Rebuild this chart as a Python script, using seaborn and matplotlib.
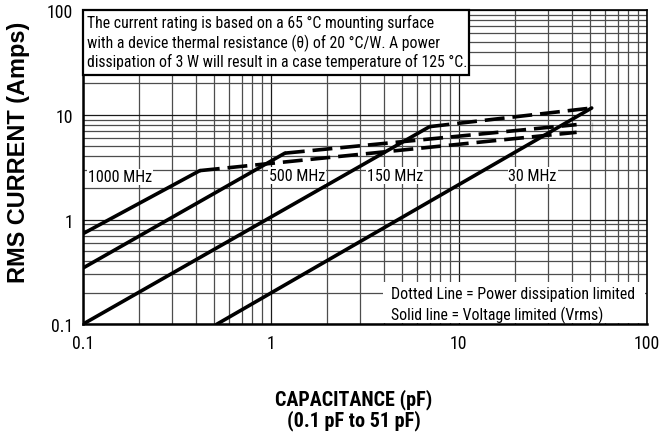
import pandas as pd
import seaborn as sns
import matplotlib.pyplot as plt
from matplotlib import font_manager
from matplotlib.patches import Rectangle

# values (capacitance in pF, current in A)
freq_labels = ["1000 MHz", "500 MHz", "150 MHz", "30 MHz"]
solid_cap = [[0.1, 0.42], [0.1, 1.19], [0.1, 7.0], [0.516, 51.0]]
solid_amp = [[0.73, 2.93], [0.343, 4.3], [0.1, 7.7], [0.1, 11.6]]
dash_cap = [[0.42, 42.4], [1.19, 42.4], [7.0, 51.0], []]
dash_amp = [[2.93, 6.8], [4.3, 8.05], [7.7, 11.6], []]
dot_cap = [51.0, 51.0]
dot_amp = [6.8, 8.6]
label_cap = [0.107, 0.983, 3.24, 18.4]
label_amp = [2.55, 2.62, 2.64, 2.64]
tick_vals = [0.1, 1, 10, 100]
tick_text = ["0.1", "1", "10", "100"]

note_lines = ["The current rating is based on a 65 °C mounting surface",
              "with a device thermal resistance (θ) of 20 °C/W. A power",
              "dissipation of 3 W will result in a case temperature of 125 °C."]
key_lines = ["Dotted Line = Power dissipation limited",
             "Solid line = Voltage limited (Vrms)"]


def pick_font():
    names = sorted({f.name for f in font_manager.fontManager.ttflist})
    for want in ["Liberation Sans Narrow", "Arial Narrow", "Roboto Condensed",
                 "DejaVu Sans Condensed", "Open Sans Condensed"]:
        if want in names:
            return want
    for n in names:
        if "Narrow" in n or "Condensed" in n:
            return n
    return "Roboto"


def fit(txt, target, renderer, use_height=False):
    # scale font so the text spans the width measured on the reference
    bb = txt.get_window_extent(renderer)
    size = bb.height if use_height else bb.width
    txt.set_fontsize(txt.get_fontsize() * target / size)


def main():
    sns.set_style("white")
    fam = pick_font()
    plt.rcParams['font.family'] = [fam, 'DejaVu Sans']
    plt.rcParams['text.color'] = 'black'
    plt.rcParams['axes.labelcolor'] = 'black'

    fig = plt.figure(figsize=(6.59, 4.39), dpi=100)
    ax = fig.add_axes([0.1255, 0.259, 0.8558, 0.716])

    # solid (voltage limited) segments
    for c, a in zip(solid_cap, solid_amp):
        df = pd.DataFrame({"cap": c, "amp": a})
        sns.lineplot(data=df, x="cap", y="amp", ax=ax, color="black",
                     lw=2.6, sort=False, zorder=4)
    # dashed (power limited) segments
    for c, a in zip(dash_cap, dash_amp):
        if not c:
            continue
        df = pd.DataFrame({"cap": c, "amp": a})
        sns.lineplot(data=df, x="cap", y="amp", ax=ax, color="black",
                     lw=2.6, sort=False, zorder=4)
        ax.lines[-1].set_dashes((5.5, 2.2))
    df = pd.DataFrame({"cap": dot_cap, "amp": dot_amp})
    sns.lineplot(data=df, x="cap", y="amp", ax=ax, color="black", lw=2.4,
                 sort=False, zorder=4)
    ax.lines[-1].set_dashes((2.0, 1.4))

    ax.set_xscale("log")
    ax.set_yscale("log")
    ax.set_xlim(0.1, 100)
    ax.set_ylim(0.1, 100)
    ax.set_xticks(tick_vals)
    ax.set_xticklabels(tick_text)
    ax.set_yticks(tick_vals)
    ax.set_yticklabels(tick_text)
    ax.grid(which="major", color="#1a1a1a", lw=0.9)
    ax.grid(which="minor", color="#4d4d4d", lw=0.9)
    ax.tick_params(which="major", direction="out", length=4, width=1.2,
                   labelsize=12, pad=3, colors="black")
    ax.tick_params(which="minor", length=0)
    for s in ax.spines.values():
        s.set_color("black")
        s.set_linewidth(1.2)
    ax.spines["left"].set_linewidth(1.8)
    ax.spines["bottom"].set_linewidth(1.8)

    freq_txt = []
    for t, x, y in zip(freq_labels, label_cap, label_amp):
        freq_txt.append(ax.text(x, y, t, fontsize=12, va="center", ha="left",
                                zorder=5, bbox=dict(facecolor="white",
                                                    edgecolor="none", pad=0.6)))

    # note box in the upper left corner
    ax.add_patch(Rectangle((0, 0.793), 0.6855, 0.207, transform=ax.transAxes,
                           facecolor="white", edgecolor="black", lw=1.6,
                           zorder=6, clip_on=False))
    note_txt = []
    for line, y in zip(note_lines, [0.9609, 0.8972, 0.8386]):
        note_txt.append(ax.text(0.0078, y, line, transform=ax.transAxes,
                                fontsize=11, va="center", ha="left", zorder=7))

    # key box in the lower right corner
    ax.add_patch(Rectangle((0.533, 0.003), 0.464, 0.1306, transform=ax.transAxes,
                           facecolor="white", edgecolor="none", zorder=6))
    key_txt = []
    for line, y in zip(key_lines, [0.0964, 0.0328]):
        key_txt.append(ax.text(0.547, y, line, transform=ax.transAxes,
                               fontsize=11, va="center", ha="left", zorder=7))

    ax.set_xlabel("CAPACITANCE (pF)\n(0.1 pF to 51 pF)", fontsize=14,
                  fontweight="bold", linespacing=1.05)
    ax.set_ylabel("RMS CURRENT (Amps)", fontsize=14, fontweight="bold",
                  family=["Liberation Sans", "DejaVu Sans"])
    ax.xaxis.set_label_coords(0.481, -0.27)
    ax.xaxis.label.set_va("center")
    ax.yaxis.set_label_coords(-0.1147, 0.551)
    ax.yaxis.label.set_va("center")

    # size the texts against the widths measured on the reference
    fig.canvas.draw()
    r = fig.canvas.get_renderer()
    fit(ax.xaxis.label, 158, r)
    fit(ax.yaxis.label, 261, r, use_height=True)
    fit(note_txt[2], 381, r)
    for t in note_txt[:2]:
        t.set_fontsize(note_txt[2].get_fontsize())
    fit(key_txt[0], 245, r)
    key_txt[1].set_fontsize(key_txt[0].get_fontsize())
    fit(freq_txt[1], 56, r)
    for t in freq_txt:
        t.set_fontsize(freq_txt[1].get_fontsize())
    lab100 = [t for t in ax.get_yticklabels() if t.get_text() == "100"][0]
    w = lab100.get_window_extent(r).width
    ax.tick_params(which="major", labelsize=12 * 26 / w)

    fig.savefig("out.png", dpi=100)


main()
